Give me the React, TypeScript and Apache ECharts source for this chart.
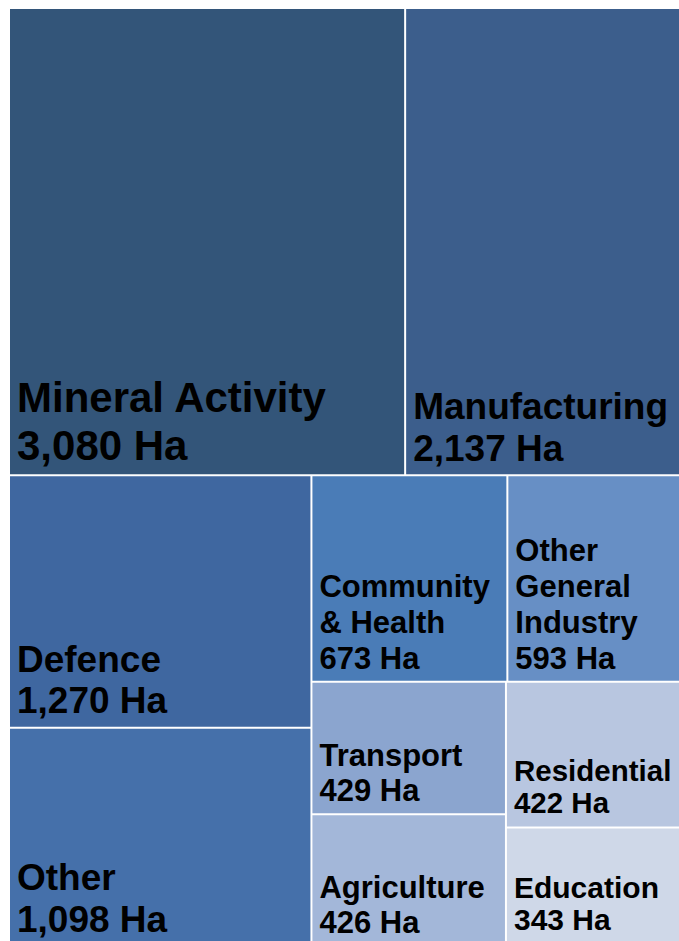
import React, { useEffect, useRef } from "react";
import * as echarts from "echarts";

const categories = [
  "Mineral Activity",
  "Manufacturing",
  "Defence",
  "Other",
  "Community & Health",
  "Other General Industry",
  "Transport",
  "Agriculture",
  "Residential",
  "Education",
];
const labelLines = [
  "Mineral Activity",
  "Manufacturing",
  "Defence",
  "Other",
  "Community\n& Health",
  "Other\nGeneral\nIndustry",
  "Transport",
  "Agriculture",
  "Residential",
  "Education",
];
const hectares = [3080, 2137, 1270, 1098, 673, 593, 429, 426, 422, 343];
const colors = [
  "#335579",
  "#3c5e8c",
  "#3f67a0",
  "#4570aa",
  "#4a7cb7",
  "#678fc5",
  "#8ba5cf",
  "#a3b7d9",
  "#b8c6e0",
  "#cfd8e8",
];
const fontSizes = [42, 37, 37, 37, 31, 31, 31, 31, 29.5, 30];
const lineHeights = [48, 42, 41, 42, 36, 36, 35, 35, 32, 32];
const yShifts = [3, 3, 2, 3, 4, 4, 3, 3, 0, -2];

export default function App() {
  const ref = useRef<HTMLDivElement>(null);
  useEffect(() => {
    if (!ref.current) return;
    const chart = echarts.init(ref.current, null, { renderer: "svg" });
    const data = categories.map((name, i) => ({
      name,
      value: hectares[i],
      itemStyle: { color: colors[i] },
      label: {
        fontSize: fontSizes[i],
        lineHeight: lineHeights[i],
        offset: [-1, yShifts[i]],
        formatter: () =>
          `${labelLines[i]}\n${hectares[i].toLocaleString("en-US")} Ha`,
      },
    }));
    chart.setOption({
      animation: false,
      series: [
        {
          type: "treemap",
          left: 10,
          top: 9,
          width: 669,
          height: 936,
          roam: false,
          nodeClick: false,
          breadcrumb: { show: false },
          sort: "desc",
          label: {
            show: true,
            position: "insideBottomLeft",
            distance: 3,
            color: "#000",
            fontWeight: "bold",
            fontFamily: "'Liberation Sans', Arial, sans-serif",
            overflow: "none",
          },
          upperLabel: { show: false },
          itemStyle: {
            borderColor: "#ffffff",
            borderWidth: 0,
            gapWidth: 2,
          },
          levels: [
            {
              itemStyle: { borderWidth: 0, gapWidth: 2, borderColor: "#fff" },
            },
          ],
          data,
        },
      ],
    });
    return () => chart.dispose();
  }, []);
  return (
    <div
      ref={ref}
      style={{ position: "absolute", left: 0, top: 0, width: 679, height: 941 }}
    />
  );
}
